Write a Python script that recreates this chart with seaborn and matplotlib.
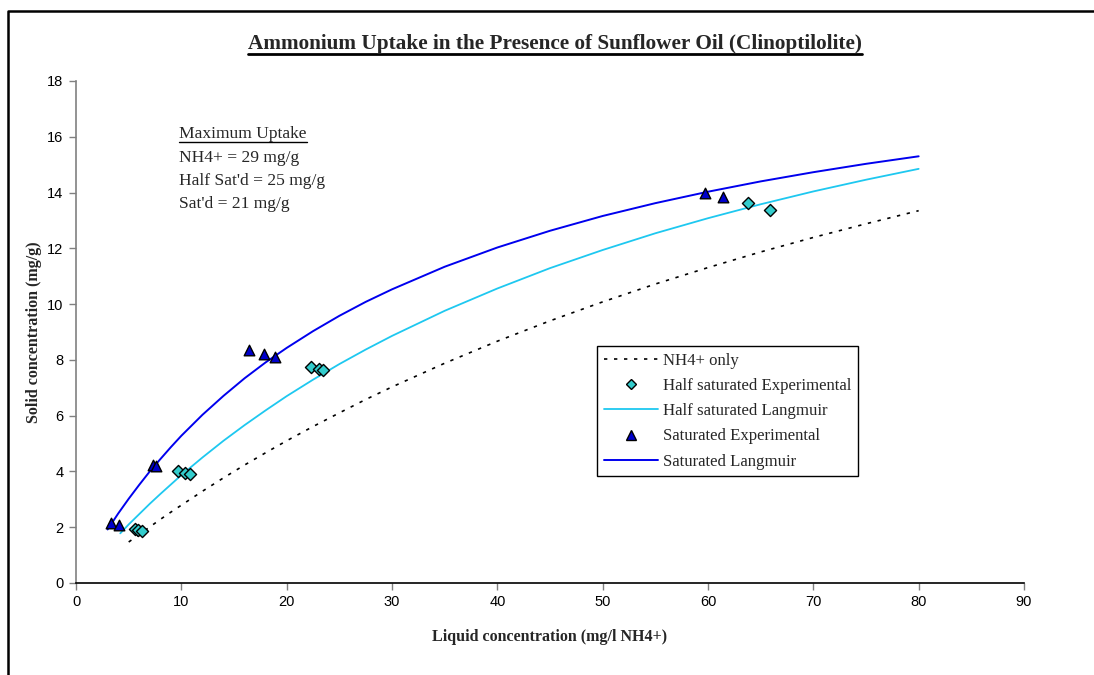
import matplotlib
matplotlib.use("Agg")
import matplotlib.pyplot as plt
import seaborn as sns
from matplotlib.lines import Line2D

# Experimental points
half_x = [5.6, 5.9, 6.3, 9.7, 10.3, 10.8, 22.35, 23.1, 23.4, 63.8, 65.9]
half_y = [1.92, 1.90, 1.85, 4.01, 3.94, 3.90, 7.75, 7.67, 7.63, 13.61, 13.39]
sat_x = [3.3, 4.1, 7.35, 7.6, 16.4, 17.85, 18.9, 59.7, 61.4]
sat_y = [2.14, 2.07, 4.23, 4.20, 8.35, 8.20, 8.10, 14.00, 13.83]

# Langmuir / NH4+ curves
sat_lx = [3, 4, 5, 6, 7, 8, 9, 10, 12, 14, 16, 18, 20, 22.5, 25, 27.5, 30,
          35, 40, 45, 50, 55, 60, 65, 70, 75, 80]
sat_ly = [1.92, 2.49, 3.02, 3.52, 4.00, 4.44, 4.87, 5.28, 6.03, 6.71, 7.34, 7.91,
          8.43, 9.03, 9.58, 10.08, 10.53, 11.34, 12.03, 12.63, 13.16, 13.62,
          14.03, 14.40, 14.73, 15.03, 15.30]
half_lx = [4.2, 5, 6, 7, 8, 9, 10, 12, 14, 16, 18, 20, 22.5, 25, 27.5, 30,
           35, 40, 45, 50, 55, 60, 65, 70, 75, 80]
half_ly = [1.78, 2.10, 2.47, 2.84, 3.19, 3.53, 3.87, 4.50, 5.10, 5.66, 6.19, 6.70,
           7.29, 7.85, 8.37, 8.86, 9.76, 10.56, 11.29, 11.94, 12.54, 13.08,
           13.58, 14.04, 14.46, 14.85]
nh4_x = [5, 6, 7, 8, 9, 10, 12, 14, 16, 18, 20, 22.5, 25, 27.5, 30,
         35, 40, 45, 50, 55, 60, 65, 70, 75, 80]
nh4_y = [1.47, 1.74, 2.01, 2.28, 2.54, 2.79, 3.29, 3.77, 4.23, 4.67, 5.10, 5.61,
         6.10, 6.58, 7.03, 7.88, 8.67, 9.40, 10.08, 10.72, 11.31, 11.87,
         12.39, 12.88, 13.35]

x_ticks = list(range(0, 91, 10))
y_ticks = list(range(0, 19, 2))

sns.set_style("white")
serif = ["Liberation Serif", "DejaVu Serif"]
sans = ["Liberation Sans", "DejaVu Sans"]

fig = plt.figure(figsize=(10.94, 6.75), dpi=100)
ax = fig.add_axes([0.0695, 0.1363, 0.8665, 0.7437])

blue = "#0000EE"
cyan = "#1EC8F0"

sns.lineplot(x=nh4_x, y=nh4_y, ax=ax, color="black", lw=1.2, linestyle=(0, (2, 4)))
sns.lineplot(x=half_lx, y=half_ly, ax=ax, color=cyan, lw=1.3)
sns.lineplot(x=sat_lx, y=sat_ly, ax=ax, color=blue, lw=1.4)
sns.scatterplot(x=half_x, y=half_y, ax=ax, marker="D", s=38, color="#33CCCC",
                edgecolor="black", linewidth=1.0, zorder=5)
sns.scatterplot(x=sat_x, y=sat_y, ax=ax, marker="^", s=58, color="#0000CC",
                edgecolor="black", linewidth=1.0, zorder=5)

ax.set_xlim(0, 90)
ax.set_ylim(0, 18)
ax.set_xticks(x_ticks)
ax.set_yticks(y_ticks)
for lab in ax.get_xticklabels() + ax.get_yticklabels():
    lab.set_family(sans)
    lab.set_fontsize(10.5)
ax.tick_params(axis="both", direction="out", length=5, width=1, colors="#808080",
               labelcolor="black", left=True, bottom=True, pad=4)
ax.grid(False)
for s in ["top", "right"]:
    ax.spines[s].set_visible(False)
ax.spines["left"].set_color("#808080")
ax.spines["bottom"].set_color("black")
ax.spines["left"].set_linewidth(1.2)
ax.spines["bottom"].set_linewidth(1.2)

ax.set_xlabel("Liquid concentration (mg/l NH4+)", family=serif, fontsize=11.5,
              fontweight="bold", labelpad=14)
ax.set_ylabel("Solid concentration (mg/g)", family=serif, fontsize=11.5,
              fontweight="bold", labelpad=4)

title = fig.text(0.507, 1 - 49 / 675, "Ammonium Uptake in the Presence of Sunflower Oil (Clinoptilolite)",
                 ha="center", va="baseline", family=serif, fontsize=15.3, fontweight="bold")

# annotation block
note_lines = ["Maximum Uptake", "NH4+ = 29 mg/g", "Half Sat'd = 25 mg/g", "Sat'd = 21 mg/g"]
note_texts = []
for i, t in enumerate(note_lines):
    note_texts.append(fig.text(179 / 1094, 1 - (138 + i * 23.5) / 675, t, ha="left",
                               va="baseline", family=serif, fontsize=12.6))

handles = [
    Line2D([], [], color="black", lw=1.2, linestyle=(0, (2, 4))),
    Line2D([], [], color="#33CCCC", marker="D", markersize=5, markeredgecolor="black", lw=0),
    Line2D([], [], color=cyan, lw=1.3),
    Line2D([], [], color="#0000CC", marker="^", markersize=6.5, markeredgecolor="black", lw=0),
    Line2D([], [], color=blue, lw=1.4),
]
labels = ["NH4+ only", "Half saturated Experimental", "Half saturated Langmuir",
          "Saturated Experimental", "Saturated Langmuir"]
leg = ax.legend(handles, labels, loc="upper left",
                bbox_to_anchor=((597 - 76) / 948, (583 - 346) / 502),
                prop={"family": serif, "size": 12.1}, frameon=True, fancybox=False,
                edgecolor="black", framealpha=1, handlelength=3.2, handletextpad=0.3,
                labelspacing=0.55, borderpad=0.4, borderaxespad=0)
leg.get_frame().set_linewidth(1.0)

# underline the title and the first note line
fig.canvas.draw()
renderer = fig.canvas.get_renderer()
inv = fig.transFigure.inverted()
for txt, lw in [(title, 2.0), (note_texts[0], 1.0)]:
    bb = txt.get_window_extent(renderer)
    (x0, y0), (x1, y1) = inv.transform([[bb.x0, bb.y0], [bb.x1, bb.y1]])
    yb = y0 + (y1 - y0) * 0.16
    fig.add_artist(Line2D([x0, x1], [yb - 3 / 675, yb - 3 / 675], color="black", lw=lw,
                          transform=fig.transFigure))

# outer chart frame (left and top edges visible)
fig.add_artist(Line2D([8 / 1094, 8 / 1094, 1.0], [0.0, 1 - 10.5 / 675, 1 - 10.5 / 675],
                      color="black", lw=1.8, transform=fig.transFigure))

fig.savefig("out.png", dpi=100)
